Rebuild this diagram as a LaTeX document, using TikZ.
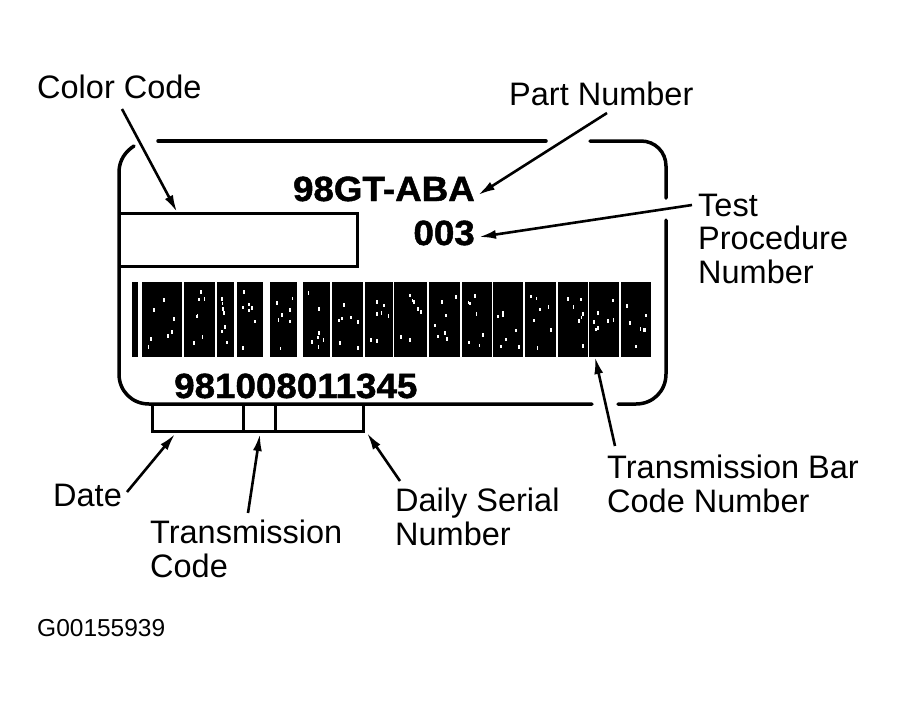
\documentclass[tikz,border=0pt]{standalone}
\usepackage{fontspec}
\setmainfont{Liberation Sans}
\newfontfamily\heavyfont[FakeBold=1.3]{Liberation Sans Bold}
\usetikzlibrary{arrows.meta}
\begin{document}
\begin{tikzpicture}[x=1pt,y=-1pt,
  lbl/.style={font=\fontsize{32.5}{33.3}\selectfont, inner sep=0pt, align=left},
  small/.style={font=\fontsize{24.5}{26}\selectfont, inner sep=0pt},
  big/.style={font=\heavyfont\fontsize{35}{36}\selectfont, inner sep=0pt, xscale=1.05},
  outline/.style={line width=3.5pt, line cap=round},
  boxline/.style={line width=3pt},
  arr/.style={line width=2.6pt, -{Latex[length=17pt,width=9pt]}},
]
\useasboundingbox[fill=white] (0,0) rectangle (898,713);

% label outline (with gaps where arrows pass)
\draw[outline] (134,146) .. controls (126,151) and (119,160) .. (119,172)
  -- (119,374) .. controls (119,391) and (132,404) .. (149,404) -- (592,404);
\draw[outline] (618,404) -- (636,404) .. controls (653,404) and (666,391) .. (666,374) -- (666,220);
\draw[outline] (666,198) -- (666,166) .. controls (666,152) and (655,141) .. (641,141) -- (590,141);
\draw[outline] (546,141) -- (158,141);

% colour code box
\draw[boxline] (119,213) rectangle (357,266);

% boxes under the serial number
\draw[boxline] (152,404) rectangle (363,431);
\draw[boxline] (243,404) -- (243,431);
\draw[boxline] (275,404) -- (275,431);

% bar code
\def\barlist{141.5/181.5,184/215,216.8/233.5,237.3/262.8,269.5/297.2,303.2/330.2,332.2/362.8,364.6/392.8,394.3/427.4,428.8/460.4,461.9/491.5,492.8/523.2,524.6/555.7,557.6/587.6,589.2/619,620.8/651}
\fill (132.3,282) rectangle (137.7,357);
\foreach \a/\b in \barlist{
  \fill (\a,282) rectangle (\b,357);
}
\pgfmathsetseed{42}
\foreach \a/\b in \barlist{
  \foreach \k in {1,...,7}{
    \pgfmathsetmacro\rx{\a+4+rnd*(\b-\a-9)}
    \pgfmathsetmacro\ry{289+rnd*58}
    \fill[white] (\rx,\ry) rectangle ++(1.8,3.6);
  }
}

% printed label texts
\node[big, anchor=base east] (pnum) at (475,201) {98GT-ABA};
\node[big, anchor=base east] (tnum) at (475,245) {003};
\node[big, anchor=base west] (snum) at (174,398) {981008011345};

% callout labels
\node[lbl, anchor=base west] (cc) at (37,98) {Color Code};
\node[lbl, anchor=base west] (pn) at (509,105) {Part Number};
\node[lbl, anchor=north west] (tp) at (698,194) {Test\\Procedure\\Number};
\node[lbl, anchor=north west] (tb) at (607,455) {Transmission Bar\\Code Number};
\node[lbl, anchor=base west] (dt) at (53,506) {Date};
\node[lbl, anchor=north west] (tc) at (150,520) {Transmission\\Code};
\node[lbl, anchor=north west] (ds) at (395,488) {Daily Serial\\Number};
\node[small, anchor=base west] (fig) at (37,636.7) {G00155939};

% arrow end points
\coordinate (ccS) at (122,109);  \coordinate (ccT) at (177,212);
\coordinate (pnS) at (607,113);  \coordinate (pnT) at (478,195);
\coordinate (tpS) at (692,205);  \coordinate (tpT) at (479,237);
\coordinate (tbS) at (615,446);  \coordinate (tbT) at (595,357);
\coordinate (dtS) at (127,492);  \coordinate (dtT) at (175,434);
\coordinate (tcS) at (248,513);  \coordinate (tcT) at (260,434);
\coordinate (dsS) at (400,481);  \coordinate (dsT) at (367,433);

\draw[arr] (ccS) -- (ccT);
\draw[arr] (pnS) -- (pnT);
\draw[arr] (tpS) -- (tpT);
\draw[arr] (tbS) -- (tbT);
\draw[arr] (dtS) -- (dtT);
\draw[arr] (tcS) -- (tcT);
\draw[arr] (dsS) -- (dsT);
\end{tikzpicture}
\end{document}
